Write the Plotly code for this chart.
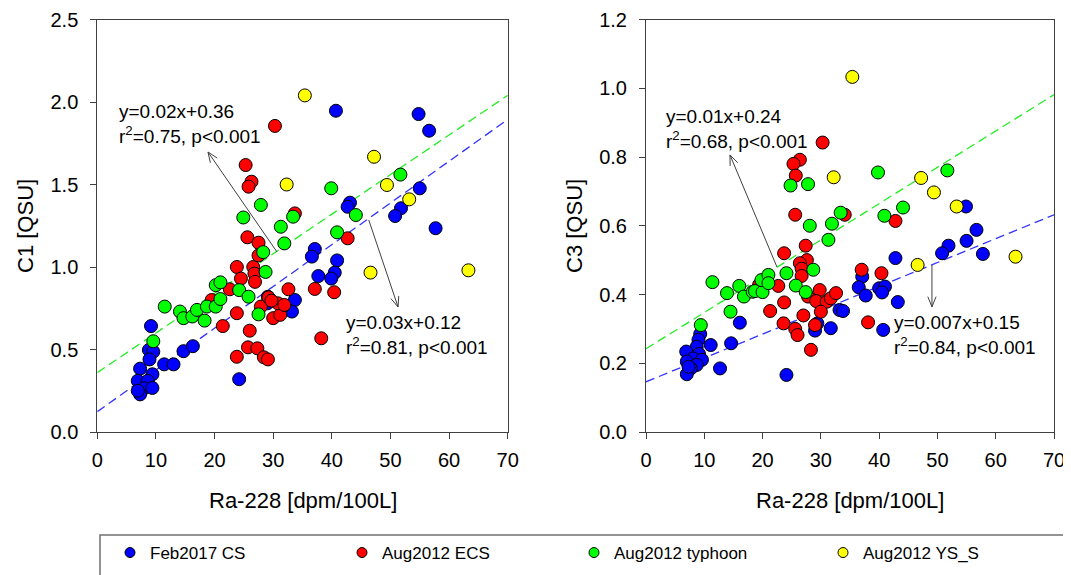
import numpy as np
import plotly.graph_objects as go

# ---------------- data ----------------
series_names = ["Feb2017 CS", "Aug2012 ECS", "Aug2012 typhoon", "Aug2012 YS_S"]
series_colors = ["#0000FF", "#FF0000", "#00FF00", "#FFFF00"]

# Left panel: C1 vs Ra-228
c1_cs_x = [9.16, 8.8, 9.55, 8.9, 7.3, 9.4, 6.9, 8.6, 8.0, 9.4, 7.3, 6.9, 11.4, 13.0, 14.7, 16.3,
           24.2, 33.7, 33.2, 29.1, 29.0, 31.7, 40.7, 54.8, 56.6, 55.0, 43.1, 42.7, 51.8, 50.8, 57.7,
           37.1, 36.6, 40.9, 40.5, 37.7, 39.9]
c1_cs_y = [0.642, 0.497, 0.487, 0.44, 0.384, 0.35, 0.31, 0.31, 0.265, 0.267, 0.228, 0.25, 0.41, 0.41,
           0.49, 0.52, 0.32, 0.80, 0.73, 0.82, 0.78, 0.76, 1.947, 1.927, 1.826, 1.477, 1.39, 1.365,
           1.356, 1.309, 1.235, 1.109, 1.063, 1.04, 0.966, 0.945, 0.93]
c1_ecs_x = [19.5, 23.8, 24.5, 22.6, 23.8, 21.4, 26.0, 23.8, 25.7, 27.3, 28.4, 29.1, 26.6, 26.8, 26.9,
            27.5, 27.9, 29.2, 32.6, 30.0, 31.2, 30.8, 31.9, 29.7, 30.3, 25.3, 26.3, 25.8, 33.7, 25.6,
            27.5, 42.7, 37.1, 40.4, 38.2]
c1_ecs_y = [0.80, 1.0, 0.93, 0.865, 0.72, 0.642, 0.614, 0.456, 0.513, 0.507, 0.453, 0.44, 1.0, 0.96,
            0.91, 1.07, 0.76, 0.816, 0.865, 0.69, 0.71, 0.78, 0.77, 0.796, 1.855, 1.618, 1.517, 1.487,
            1.325, 1.18, 1.147, 1.174, 0.867, 0.847, 0.568]
c1_typ_x = [9.55, 11.5, 14.1, 14.7, 16.2, 17.0, 18.3, 18.7, 20.2, 20.2, 21.0, 21.0, 24.2, 25.8, 27.5,
            28.7, 28.3, 27.9, 24.9, 33.4, 31.3, 31.9, 51.7, 39.9, 44.1, 40.9]
c1_typ_y = [0.55, 0.76, 0.73, 0.69, 0.70, 0.74, 0.675, 0.76, 0.76, 0.89, 0.907, 0.806, 0.86, 0.82,
            0.713, 0.97, 1.09, 1.376, 1.30, 1.305, 1.244, 1.143, 1.56, 1.477, 1.315, 1.21]
c1_ys_x = [35.4, 47.2, 32.3, 49.4, 53.2, 46.6, 63.3]
c1_ys_y = [2.04, 1.668, 1.50, 1.497, 1.41, 0.966, 0.98]

# Right panel: C3 vs Ra-228
c3_cs_x = [29.4, 29.0, 31.7, 33.2, 33.8, 16.1, 11.1, 14.6, 12.7, 24.1, 9.3, 9.0, 8.7, 6.9, 9.1, 8.1,
           7.0, 9.6, 8.7, 7.7, 7.0, 7.3, 54.9, 56.7, 55.0, 51.9, 50.8, 57.8, 42.8, 37.1, 36.5, 37.7,
           40.0, 41.0, 40.5, 43.2, 40.7]
c3_cs_y = [0.316, 0.295, 0.302, 0.355, 0.352, 0.318, 0.253, 0.258, 0.185, 0.166, 0.285, 0.268, 0.248,
           0.234, 0.227, 0.214, 0.205, 0.21, 0.195, 0.185, 0.168, 0.19, 0.656, 0.588, 0.556, 0.542,
           0.52, 0.518, 0.506, 0.452, 0.421, 0.397, 0.418, 0.423, 0.406, 0.378, 0.297]
c3_ecs_x = [30.3, 26.4, 25.3, 25.7, 25.6, 34.1, 27.4, 23.7, 27.6, 26.4, 26.7, 26.7, 19.4, 22.7, 23.7,
            21.3, 29.8, 27.8, 29.2, 31.0, 31.7, 32.6, 30.0, 27.0, 23.6, 25.6, 26.0, 29.0, 28.3, 42.8,
            37.0, 40.4, 38.1]
c3_ecs_y = [0.842, 0.792, 0.78, 0.746, 0.632, 0.632, 0.542, 0.52, 0.50, 0.491, 0.475, 0.454, 0.428,
            0.425, 0.377, 0.352, 0.413, 0.394, 0.381, 0.379, 0.389, 0.404, 0.35, 0.339, 0.316, 0.30,
            0.282, 0.311, 0.239, 0.614, 0.472, 0.462, 0.319]
c3_typ_x = [24.8, 27.8, 33.4, 31.9, 28.1, 31.3, 28.7, 24.1, 11.4, 13.9, 16.0, 16.8, 18.3, 18.7, 20.0,
            19.8, 21.0, 21.0, 25.7, 27.4, 14.5, 9.4, 39.8, 51.7, 44.1, 40.9]
c3_typ_y = [0.717, 0.721, 0.638, 0.606, 0.60, 0.559, 0.472, 0.462, 0.436, 0.404, 0.425, 0.394, 0.408,
            0.41, 0.407, 0.442, 0.457, 0.433, 0.426, 0.407, 0.35, 0.311, 0.755, 0.761, 0.653, 0.629]
c3_ys_x = [35.4, 32.2, 47.2, 49.4, 53.3, 63.4, 46.6]
c3_ys_y = [1.033, 0.741, 0.739, 0.697, 0.656, 0.51, 0.486]

# regression lines (slope, intercept) as drawn
c1_fit_typ = (0.024, 0.36)
c1_fit_cs = (0.0253, 0.123)
c3_fit_typ = (0.01056, 0.242)
c3_fit_cs = (0.00694, 0.146)
fit_x = [0, 70]

# labels
c1_label_typ = "y=0.02x+0.36<br>r<sup>2</sup>=0.75, p&lt;0.001"
c1_label_cs = "y=0.03x+0.12<br>r<sup>2</sup>=0.81, p&lt;0.001"
c3_label_typ = "y=0.01x+0.24<br>r<sup>2</sup>=0.68, p&lt;0.001"
c3_label_cs = "y=0.007x+0.15<br>r<sup>2</sup>=0.84, p&lt;0.001"

x_title = "Ra-228 [dpm/100L]"
y1_title = "C1 [QSU]"
y2_title = "C3 [QSU]"

# ---------------- layout geometry ----------------
OFF = 8  # page body margin
W, H = 1071 - OFF, 575 - OFF
FONT = "Liberation Sans, Arial, sans-serif"

def fx(px):
    return (px - OFF) / W

def fy(py):
    return (H - (py - OFF)) / H

dom_x1 = [fx(97.3), fx(507.7)]
dom_x2 = [fx(646.0), fx(1054.0)]
dom_y = [fy(432.0), fy(19.5)]
xr = [0, 70]
y1r = [0, 2.5]
y2r = [0, 1.2]

fig = go.Figure()

def add_line(xa, ya, fit, color):
    s, b = fit
    xs = np.array(fit_x, dtype=float)
    fig.add_trace(go.Scatter(x=xs, y=s * xs + b, mode="lines", xaxis=xa, yaxis=ya,
                             line=dict(color=color, width=1.3, dash="9px,5px"),
                             showlegend=False, hoverinfo="skip"))

add_line("x", "y", c1_fit_typ, "#22EE22")
add_line("x", "y", c1_fit_cs, "#3333FF")
add_line("x2", "y2", c3_fit_typ, "#22EE22")
add_line("x2", "y2", c3_fit_cs, "#3333FF")

left_sets = [(c1_cs_x, c1_cs_y), (c1_ecs_x, c1_ecs_y), (c1_typ_x, c1_typ_y), (c1_ys_x, c1_ys_y)]
right_sets = [(c3_cs_x, c3_cs_y), (c3_ecs_x, c3_ecs_y), (c3_typ_x, c3_typ_y), (c3_ys_x, c3_ys_y)]

for (xs, ys), col, nm in zip(left_sets, series_colors, series_names):
    fig.add_trace(go.Scatter(x=xs, y=ys, mode="markers", xaxis="x", yaxis="y", name=nm,
                             marker=dict(size=13, color=col, line=dict(color="black", width=1)),
                             showlegend=False))
for (xs, ys), col, nm in zip(right_sets, series_colors, series_names):
    fig.add_trace(go.Scatter(x=xs, y=ys, mode="markers", xaxis="x2", yaxis="y2", name=nm,
                             marker=dict(size=13, color=col, line=dict(color="black", width=1)),
                             showlegend=False))

# legend entries, each in its own legend for placement
legend_ids = ["legend", "legend2", "legend3", "legend4"]
legend_dot_px = [128, 360, 592, 841]
for nm, col, lid in zip(series_names, series_colors, legend_ids):
    fig.add_trace(go.Scatter(x=[None], y=[None], mode="markers", name=nm, legend=lid,
                             marker=dict(size=10, color=col, line=dict(color="black", width=1)),
                             showlegend=True))

axis_common = dict(showline=True, linecolor="#404040", linewidth=1, mirror=True,
                   ticks="outside", ticklen=6, tickcolor="#404040", tickwidth=1,
                   showgrid=False, zeroline=False, automargin=False,
                   tickfont=dict(family=FONT, size=20, color="black"))

layout = dict(
    width=W, height=H, margin=dict(l=0, r=0, t=0, b=0, autoexpand=False),
    paper_bgcolor="white", plot_bgcolor="white",
    xaxis=dict(domain=dom_x1, range=xr, anchor="y", dtick=10, ticklabelstandoff=4, **axis_common),
    yaxis=dict(domain=dom_y, range=y1r, anchor="x", dtick=0.5, tickformat=".1f",
               ticklabelstandoff=8, **axis_common),
    xaxis2=dict(domain=dom_x2, range=xr, anchor="y2", dtick=10, ticklabelstandoff=4, **axis_common),
    yaxis2=dict(domain=dom_y, range=y2r, anchor="x2", dtick=0.2, tickformat=".1f",
                ticklabelstandoff=8, **axis_common),
    showlegend=True,
)
for lid, px in zip(legend_ids, legend_dot_px):
    layout[lid] = dict(x=fx(px - 18), xanchor="left", y=fy(553), yanchor="middle",
                       orientation="h", bgcolor="rgba(0,0,0,0)", borderwidth=0,
                       itemwidth=30,
                       font=dict(family=FONT, size=17, color="black"))
fig.update_layout(**layout)

# axis titles
title_font = dict(family=FONT, size=22, color="black")
fig.add_annotation(text=x_title, xref="paper", yref="paper", x=fx(302.5), y=fy(500),
                   xanchor="center", yanchor="middle", showarrow=False, font=title_font)
fig.add_annotation(text=x_title, xref="paper", yref="paper", x=fx(850), y=fy(500),
                   xanchor="center", yanchor="middle", showarrow=False, font=title_font)
fig.add_annotation(text=y1_title, xref="paper", yref="paper", x=fx(25), y=fy(226),
                   xanchor="center", yanchor="middle", showarrow=False, textangle=-90,
                   font=title_font)
fig.add_annotation(text=y2_title, xref="paper", yref="paper", x=fx(574), y=fy(226),
                   xanchor="center", yanchor="middle", showarrow=False, textangle=-90,
                   font=title_font)

# regression labels
labels = [("x", "y", 3.38, 1.864, c1_label_typ), ("x", "y", 42.1, 0.588, c1_label_cs),
          ("x2", "y2", 3.09, 0.881, c3_label_typ), ("x2", "y2", 42.2, 0.282, c3_label_cs)]
for xa, ya, x, y, t in labels:
    fig.add_annotation(text=t, xref=xa, yref=ya, x=x, y=y, xanchor="left", yanchor="middle",
                       align="left", showarrow=False, font=dict(family=FONT, size=19, color="black"))

# arrows (tail -> head) with open V heads
arrows = [("x", "y", (30.65, 1.091), (18.88, 1.697)),
          ("x", "y", (46.3, 1.285), (51.3, 0.758)),
          ("x2", "y2", (22.47, 0.480), (14.41, 0.806)),
          ("x2", "y2", (49.06, 0.486), (49.06, 0.364))]

def px_scale(xa):
    d = dom_x1 if xa == "x" else dom_x2
    yr = y1r if xa == "x" else y2r
    sx = (d[1] - d[0]) * W / (xr[1] - xr[0])
    sy = (dom_y[1] - dom_y[0]) * H / (yr[1] - yr[0])
    return sx, sy

for xa, ya, tail, head in arrows:
    sx, sy = px_scale(xa)
    fig.add_shape(type="line", xref=xa, yref=ya, x0=tail[0], y0=tail[1], x1=head[0], y1=head[1],
                  line=dict(color="#404040", width=1))
    dx = (head[0] - tail[0]) * sx
    dy = (head[1] - tail[1]) * sy
    L = np.hypot(dx, dy)
    ux, uy = dx / L, dy / L
    pts = []
    for ang in (np.radians(22), -np.radians(22)):
        ca, sa = np.cos(ang), np.sin(ang)
        bx = -(ux * ca - uy * sa) * 11
        by = -(ux * sa + uy * ca) * 11
        pts.append((head[0] + bx / sx, head[1] + by / sy))
    path = f"M {pts[0][0]},{pts[0][1]} L {head[0]},{head[1]} L {pts[1][0]},{pts[1][1]}"
    fig.add_shape(type="path", xref=xa, yref=ya, path=path, line=dict(color="#404040", width=1))

# legend frame
fig.add_shape(type="rect", xref="paper", yref="paper", x0=fx(100), x1=fx(1068),
              y0=-0.05, y1=fy(535), line=dict(color="#707070", width=1.5))

fig.write_html("out.html")
